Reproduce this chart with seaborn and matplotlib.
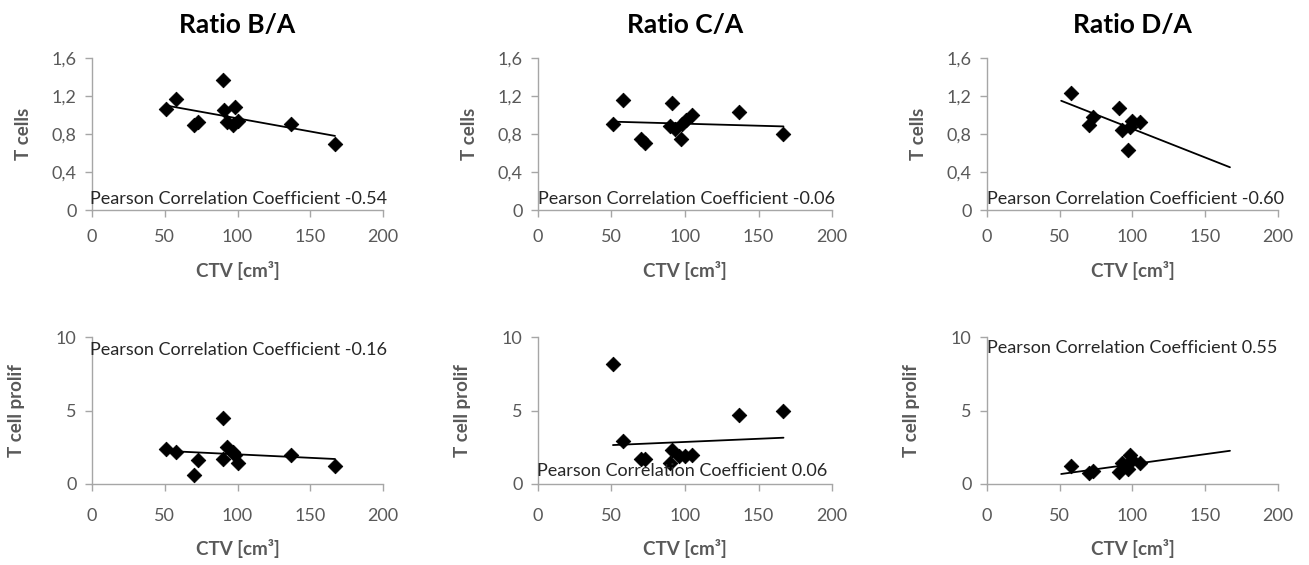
import matplotlib
matplotlib.use("Agg")
import matplotlib.pyplot as plt
import seaborn as sns
import pandas as pd

# CTV volumes and ratios
ba_cells_x = [51, 58, 70, 73, 90, 91, 93, 97, 98, 100, 137, 167]
ba_cells_y = [1.06, 1.17, 0.90, 0.93, 1.37, 1.05, 0.93, 0.89, 1.08, 0.94, 0.91, 0.69]
ca_cells_x = [51, 58, 70, 73, 90, 91, 93, 97, 98, 101, 105, 137, 167]
ca_cells_y = [0.91, 1.16, 0.75, 0.71, 0.88, 1.13, 0.85, 0.75, 0.91, 0.95, 1.00, 1.03, 0.80]
da_cells_x = [58, 70, 73, 91, 93, 97, 98, 100, 105]
da_cells_y = [1.23, 0.90, 0.98, 1.07, 0.84, 0.63, 0.87, 0.94, 0.93]

ba_prolif_x = [51, 58, 70, 73, 90, 90, 93, 97, 98, 100, 137, 167]
ba_prolif_y = [2.4, 2.2, 0.6, 1.6, 4.5, 1.7, 2.5, 2.2, 2.0, 1.4, 2.0, 1.2]
ca_prolif_x = [51, 58, 70, 73, 90, 91, 96, 100, 105, 137, 167]
ca_prolif_y = [8.2, 2.9, 1.7, 1.7, 1.4, 2.3, 1.9, 1.9, 2.0, 4.7, 5.0]
da_prolif_x = [58, 70, 73, 91, 93, 97, 98, 100, 105]
da_prolif_y = [1.2, 0.75, 0.85, 0.8, 1.4, 1.0, 2.0, 1.6, 1.4]

# trend line ends (x start/end, y start/end)
trend_x = [51, 167]
ba_cells_trend = [1.10, 0.78]
ca_cells_trend = [0.93, 0.88]
da_cells_trend = [1.15, 0.45]
ba_prolif_trend = [2.25, 1.70]
ca_prolif_trend = [2.65, 3.15]
da_prolif_trend = [0.68, 2.26]

pearson = ["-0.54", "-0.06", "-0.60", "-0.16", "0.06", "0.55"]
titles = ["Ratio B/A", "Ratio C/A", "Ratio D/A"]

sns.set_style("white")
plt.rcParams["font.family"] = ["Lato", "DejaVu Sans"]

grey_txt = "#595959"
grey_ax = "#a6a6a6"

fig = plt.figure(figsize=(13.09, 5.65), dpi=100)
lefts = [0.0703, 0.411, 0.754]
widths = [0.2223, 0.2246, 0.2223]

panels = [
    (ba_cells_x, ba_cells_y, ba_cells_trend),
    (ca_cells_x, ca_cells_y, ca_cells_trend),
    (da_cells_x, da_cells_y, da_cells_trend),
    (ba_prolif_x, ba_prolif_y, ba_prolif_trend),
    (ca_prolif_x, ca_prolif_y, ca_prolif_trend),
    (da_prolif_x, da_prolif_y, da_prolif_trend),
]

# pearson text position (axes fraction) per panel
text_pos = [(-0.007, 0.07), (0.0, 0.07), (0.0, 0.07),
            (-0.007, 0.91), (-0.003, 0.085), (0.0, 0.925)]

for i, (xs, ys, tr) in enumerate(panels):
    row, col = divmod(i, 3)
    if row == 0:
        ax = fig.add_axes([lefts[col], 0.6283, widths[col], 0.269])
    else:
        ax = fig.add_axes([lefts[col], 0.1434, widths[col], 0.260])

    df = pd.DataFrame({"CTV": xs, "val": ys})
    sns.lineplot(x=trend_x, y=tr, ax=ax, color="black", lw=1.3, zorder=2)
    sns.scatterplot(data=df, x="CTV", y="val", ax=ax, marker="D", s=55,
                    color="black", edgecolor="black", zorder=3)

    ax.set_xlim(0, 200)
    ax.set_xticks([0, 50, 100, 150, 200])
    if row == 0:
        ax.set_ylim(0, 1.6)
        ax.set_yticks([0, 0.4, 0.8, 1.2, 1.6])
        ax.set_yticklabels(["0", "0,4", "0,8", "1,2", "1,6"])
        ax.set_ylabel("T cells", fontsize=13.5, fontweight="bold", color=grey_txt, labelpad=14)
        ax.set_title(titles[col], fontsize=19, fontweight="bold", color="black", pad=18)
        xpad = 9
    else:
        ax.set_ylim(0, 10)
        ax.set_yticks([0, 5, 10])
        ax.set_ylabel("T cell prolif", fontsize=13.5, fontweight="bold", color=grey_txt, labelpad=22)
        xpad = 12
    ax.set_xlabel("CTV [cm³]", fontsize=13.5, fontweight="bold", color=grey_txt, labelpad=11)

    for s in ["top", "right"]:
        ax.spines[s].set_visible(False)
    for s in ["left", "bottom"]:
        ax.spines[s].set_color(grey_ax)
        ax.spines[s].set_linewidth(1.0)
    ax.tick_params(axis="both", direction="out", length=5, width=1, color=grey_ax,
                   labelsize=13, labelcolor=grey_txt, left=True, bottom=True)
    ax.tick_params(axis="x", pad=xpad)
    ax.tick_params(axis="y", pad=6)

    tx, ty = text_pos[i]
    ax.text(tx, ty, "Pearson Correlation Coefficient " + pearson[i],
            transform=ax.transAxes, ha="left", va="center", fontsize=13,
            color="#262626", zorder=4)

fig.savefig("out.png", dpi=100)
